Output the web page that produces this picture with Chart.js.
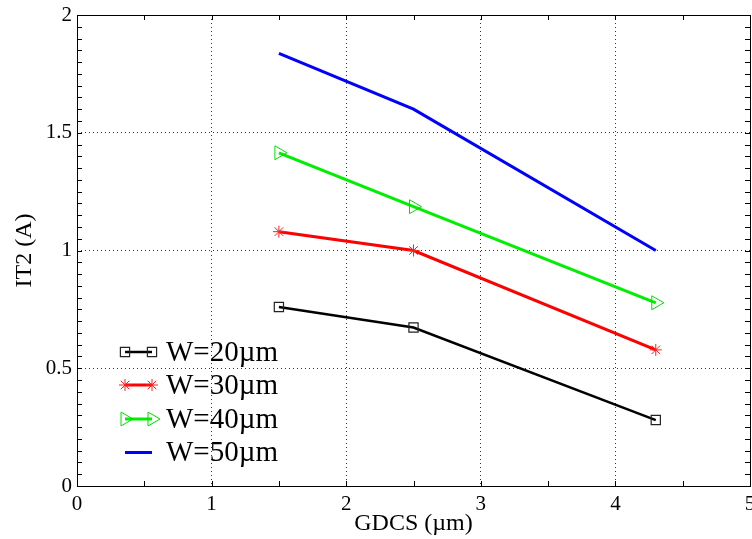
<!DOCTYPE html>
<html>
<head>
<meta charset="utf-8">
<script src="https://cdn.jsdelivr.net/npm/chart.js@4/dist/chart.umd.min.js"></script>
<style>
html,body{margin:0;padding:0;background:#fff;}
#wrap{width:752px;height:539px;position:relative;}
</style>
</head>
<body>
<div id="wrap"><canvas id="c" width="752" height="539"></canvas></div>
<script>
// ---- data ----
const gdcs = [1.5, 2.5, 4.3];
const w20 = [0.76, 0.673, 0.28];
const w30 = [1.08, 1.0, 0.578];
const w40 = [1.415, 1.186, 0.778];
const w50 = [1.837, 1.60, 1.0];
const seriesLabels = ['W=20\u00b5m', 'W=30\u00b5m', 'W=40\u00b5m', 'W=50\u00b5m'];
const xTickValues = [0, 1, 2, 3, 4, 5];
const yTickValues = [0, 0.5, 1, 1.5, 2];

const serif = '"Liberation Serif", "Times New Roman", serif';
const toPts = (ys) => gdcs.map((x, i) => ({x: x, y: ys[i]}));

const datasets = [
  {label: seriesLabels[0], data: toPts(w20), borderColor: '#000', borderWidth: 2.5,
   pointStyle: 'rect', pointRadius: 6.5, pointBorderColor: '#222', pointBackgroundColor: 'rgba(0,0,0,0)', pointBorderWidth: 1.2},
  {label: seriesLabels[1], data: toPts(w30), borderColor: '#ff0000', borderWidth: 3,
   pointStyle: 'star', pointRadius: 6, pointBorderColor: '#ff2020', pointBackgroundColor: 'rgba(0,0,0,0)', pointBorderWidth: 1},
  {label: seriesLabels[2], data: toPts(w40), borderColor: '#00ee00', borderWidth: 3,
   pointStyle: 'triangle', pointRotation: 90, pointRadius: 8, pointBorderColor: '#00dd00', pointBackgroundColor: 'rgba(0,0,0,0)', pointBorderWidth: 1},
  {label: seriesLabels[3], data: toPts(w50), borderColor: '#0000ff', borderWidth: 3,
   pointRadius: 0, pointStyle: false}
];
datasets.forEach(d => { d.tension = 0; d.fill = false; d.pointHoverRadius = d.pointRadius; d.clip = false; });

function drawMarker(ctx, ds, x, y) {
  if (!ds.pointStyle || !ds.pointRadius) return;
  ctx.save();
  ctx.strokeStyle = ds.pointBorderColor;
  ctx.fillStyle = ds.pointBackgroundColor;
  ctx.lineWidth = ds.pointBorderWidth;
  Chart.helpers.drawPoint(ctx, {pointStyle: ds.pointStyle, radius: ds.pointRadius, rotation: ds.pointRotation || 0, borderWidth: ds.pointBorderWidth}, x, y);
  ctx.restore();
}

const framePlugin = {
  id: 'frame',
  afterDatasetsDraw(chart) {
    const ctx = chart.ctx;
    const a = chart.chartArea;
    const xs = chart.scales.x, ys = chart.scales.y;
    ctx.save();
    ctx.strokeStyle = '#000';
    ctx.lineWidth = 1;
    const tl = 5;
    ctx.beginPath();
    for (let i = 0; i <= 40; i++) {
      const py = Math.round(ys.getPixelForValue(i * 0.05)) + 0.5;
      ctx.moveTo(a.left, py); ctx.lineTo(a.left + tl, py);
      ctx.moveTo(a.right, py); ctx.lineTo(a.right - tl, py);
    }
    for (let i = 0; i <= 10; i++) {
      const px = Math.round(xs.getPixelForValue(i * 0.5)) + 0.5;
      ctx.moveTo(px, a.bottom); ctx.lineTo(px, a.bottom - tl);
      ctx.moveTo(px, a.top); ctx.lineTo(px, a.top + tl);
    }
    ctx.stroke();
    ctx.strokeRect(Math.round(a.left) + 0.5, Math.round(a.top) + 0.5, Math.round(a.right - a.left), Math.round(a.bottom - a.top));

    // legend
    const rows = [352, 385, 419, 452.5];
    const x1 = 125, x2 = 152;
    chart.data.datasets.forEach((ds, i) => {
      const y = rows[i];
      ctx.save();
      ctx.strokeStyle = ds.borderColor;
      ctx.lineWidth = ds.borderWidth;
      ctx.beginPath(); ctx.moveTo(x1, y); ctx.lineTo(x2, y); ctx.stroke();
      ctx.restore();
      drawMarker(ctx, ds, x1, y);
      drawMarker(ctx, ds, x2, y);
      ctx.fillStyle = '#000';
      ctx.font = '29px ' + serif;
      ctx.textBaseline = 'middle';
      ctx.textAlign = 'left';
      ctx.fillText(ds.label, 166, y + 1);
    });
    ctx.restore();
  }
};

const gridColor = (ctx) => {
  const v = ctx.tick ? ctx.tick.value : null;
  return (v === null || v <= 0 || v >= ctx.scale.max) ? 'rgba(0,0,0,0)' : '#333';
};

new Chart(document.getElementById('c'), {
  type: 'line',
  data: {datasets: datasets},
  options: {
    responsive: false,
    animation: false,
    devicePixelRatio: 1,
    layout: {autoPadding: false, padding: {left: 0, right: 2, top: 15, bottom: 0}},
    plugins: {legend: {display: false}, tooltip: {enabled: false}},
    scales: {
      x: {
        type: 'linear', min: 0, max: 5,
        afterBuildTicks: (s) => { s.ticks = xTickValues.map(v => ({value: v})); },
        afterFit: (s) => { s.height = 53; s.paddingLeft = 0; s.paddingRight = 0; },
        ticks: {color: '#000', font: {family: serif, size: 21}, padding: 6, maxRotation: 0,
                callback: (v) => String(v)},
        grid: {color: gridColor, lineWidth: 1, drawTicks: false, tickLength: 0},
        border: {display: false, dash: [1, 3]},
        title: {display: true, text: 'GDCS (\u00b5m)', color: '#000', font: {family: serif, size: 24, lineHeight: 1.2}, padding: {top: 0, bottom: 1}}
      },
      y: {
        type: 'linear', min: 0, max: 2,
        afterBuildTicks: (s) => { s.ticks = yTickValues.map(v => ({value: v})); },
        afterFit: (s) => { s.width = 77; s.paddingTop = 0; s.paddingBottom = 0; },
        ticks: {color: '#000', font: {family: serif, size: 21}, padding: 5,
                callback: (v) => String(v)},
        grid: {color: gridColor, lineWidth: 1, drawTicks: false, tickLength: 0},
        border: {display: false, dash: [1, 3]},
        title: {display: true, text: 'IT2 (A)', color: '#000', font: {family: serif, size: 24, lineHeight: 1.2}, padding: {top: 10, bottom: 0}}
      }
    }
  },
  plugins: [framePlugin]
});
</script>
</body>
</html>
